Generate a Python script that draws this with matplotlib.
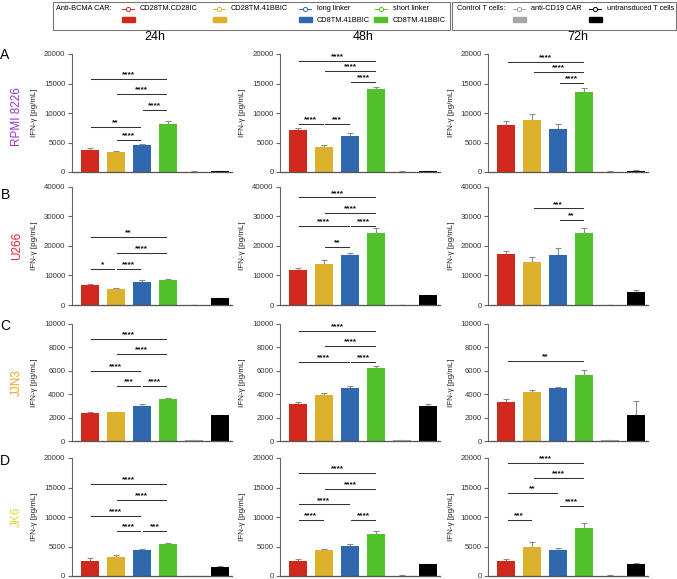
import matplotlib
matplotlib.use("Agg")
import matplotlib.pyplot as plt
from matplotlib.lines import Line2D
from matplotlib.patches import Rectangle

plt.rcParams['font.family'] = ['Liberation Sans', 'DejaVu Sans']

# ---------------- data ----------------
groups = ["CD28TM.CD28IC", "CD28TM.41BBIC", "long linker CD8TM.41BBIC",
          "short linker CD8TM.41BBIC", "anti-CD19 CAR", "untransduced T cells"]
times = ["24h", "48h", "72h"]
cell_lines = ["RPMI 8226", "U266", "JJN3", "JK6"]
panel_letters = ["A", "B", "C", "D"]
y_max = [20000, 40000, 10000, 20000]
y_step = [5000, 10000, 2000, 5000]

# means [time][group]
rpmi_mean = [[3800, 3400, 4650, 8150, 80, 150],
             [7100, 4250, 6080, 14030, 80, 150],
             [7950, 8800, 7300, 13500, 80, 250]]
rpmi_err = [[350, 200, 150, 500, 30, 40],
            [300, 400, 450, 350, 30, 40],
            [750, 1000, 800, 800, 30, 40]]
u266_mean = [[6750, 5300, 7750, 8450, 0, 2250],
             [12000, 13950, 16800, 24350, 100, 3300],
             [17350, 14500, 16800, 24350, 100, 4300]]
u266_err = [[250, 300, 650, 250, 0, 100],
            [450, 1350, 800, 1700, 50, 250],
            [900, 1700, 2500, 1700, 50, 900]]
jjn3_mean = [[2420, 2440, 2980, 3600, 50, 2180],
             [3120, 3890, 4510, 6200, 60, 2950],
             [3370, 4170, 4490, 5620, 50, 2180]]
jjn3_err = [[60, 80, 140, 100, 20, 60],
            [250, 170, 200, 200, 40, 230],
            [230, 200, 150, 480, 40, 1200]]
jk6_mean = [[2600, 3170, 4420, 5380, 0, 1530],
            [2500, 4350, 5100, 7080, 80, 1980],
            [2600, 5000, 4400, 8200, 60, 2100]]
jk6_err = [[400, 350, 100, 280, 0, 100],
           [400, 230, 280, 570, 30, 60],
           [200, 750, 400, 700, 30, 100]]

means = [rpmi_mean, u266_mean, jjn3_mean, jk6_mean]
errs = [rpmi_err, u266_err, jjn3_err, jk6_err]

# significance brackets: (group i, group j, y, label)
sig = [
    [[(0, 3, 15800, "****"), (1, 3, 13150, "****"), (2, 3, 10500, "****"),
      (0, 2, 7650, "**"), (1, 2, 5500, "****")],
     [(0, 3, 18850, "****"), (1, 3, 17050, "****"), (2, 3, 15280, "****"),
      (0, 1, 8070, "****"), (1, 2, 8070, "***")],
     [(0, 3, 18700, "****"), (1, 3, 16970, "****"), (2, 3, 15140, "****")]],
    [[(0, 3, 22870, "**"), (1, 3, 17700, "****"), (0, 1, 12280, "*"),
      (1, 2, 12280, "****")],
     [(0, 3, 36370, "****"), (1, 3, 31160, "****"), (0, 2, 26740, "****"),
      (2, 3, 26740, "****"), (1, 2, 19500, "**")],
     [(1, 3, 32630, "***"), (2, 3, 28670, "**")]],
    [[(0, 3, 8710, "****"), (1, 3, 7400, "****"), (0, 2, 6000, "****"),
      (1, 2, 4690, "***"), (2, 3, 4690, "****")],
     [(0, 3, 9430, "****"), (1, 3, 8090, "****"), (0, 2, 6740, "****"),
      (2, 3, 6740, "****")],
     [(0, 3, 6820, "**")]],
    [[(0, 3, 15580, "****"), (1, 3, 12860, "****"), (0, 2, 10200, "****"),
      (1, 2, 7650, "****"), (2, 3, 7650, "***")],
     [(0, 3, 17450, "****"), (1, 3, 14730, "****"), (0, 2, 12120, "****"),
      (0, 1, 9460, "****"), (2, 3, 9460, "****")],
     [(0, 3, 19150, "****"), (1, 3, 16600, "****"), (0, 2, 14070, "**"),
      (2, 3, 11860, "****"), (0, 1, 9490, "***")]],
]

# ---------------- style ----------------
bar_colors = ["#D0281C", "#DDB12C", "#2F68AE", "#52C02A", "#A6A6A6", "#000000"]
line_colors = ["#D0281C", "#DDB12C", "#2F68AE", "#52C02A", "#A6A6A6", "#000000"]
cell_colors = ["#9B2FD6", "#E2232E", "#F4A01E", "#E3D43A"]

W, H = 677, 579
fig = plt.figure(figsize=(W / 100, H / 100), dpi=100)

def fx(px):
    return px / W

def fy(py):
    return 1 - py / H

col_left = [71.7, 280, 488.3]
ax_w = 160
row_top = [54, 186.7, 324, 458]
row_bot = [172, 305, 441, 576]

x = list(range(len(groups)))
for r in range(4):
    for c in range(3):
        ax = fig.add_axes([fx(col_left[c]), fy(row_bot[r]), fx(ax_w),
                           (row_bot[r] - row_top[r]) / H])
        m = means[r][c]
        e = errs[r][c]
        ax.errorbar(x, m, yerr=[[0] * len(e), e], fmt='none', ecolor='#8c8c8c',
                    elinewidth=0.8, capsize=2.5, capthick=0.8, zorder=1)
        ax.bar(x, m, width=0.69, color=bar_colors, zorder=2)
        for (i, j, yv, lab) in sig[r][c]:
            ax.plot([i + 0.05, j - 0.05], [yv, yv], color='#333333', lw=0.75,
                    zorder=3, clip_on=False)
            ax.annotate(lab, ((i + j) / 2, yv), xytext=(0, 0.5),
                        textcoords='offset points', ha='center', va='bottom',
                        fontsize=6, fontweight='bold', color='#111111')
        ax.set_xlim(-0.69, 5.46)
        ax.set_ylim(0, y_max[r])
        ax.set_yticks(range(0, y_max[r] + 1, y_step[r]))
        ax.set_xticks([])
        for s in ['top', 'right']:
            ax.spines[s].set_visible(False)
        ax.spines['left'].set_color('#666666')
        ax.spines['left'].set_linewidth(0.8)
        ax.spines['bottom'].set_color('#555555')
        ax.spines['bottom'].set_linewidth(0.9)
        ax.spines['bottom'].set_linestyle((0, (1.0, 0.8)))
        ax.tick_params(axis='y', length=3, width=0.8, color='#666666',
                       labelsize=5.6, labelcolor='#333333', pad=1.5)
        ax.set_ylabel("IFN-γ [pg/mL]", fontsize=5.8, color='#222222')
        ax.yaxis.set_label_coords(-0.21, 0.5)
        ax.patch.set_alpha(0)

# column titles
for c, (t, px) in enumerate(zip(times, [155, 363, 578])):
    fig.text(fx(px), fy(37), t, ha='center', va='center', fontsize=9)

# row labels
for r in range(4):
    fig.text(fx(5), fy([55, 195, 326, 461][r]), panel_letters[r], ha='center',
             va='center', fontsize=10)
    fig.text(fx(17), fy((row_top[r] + row_bot[r]) / 2 + (4 if r == 0 else 0)),
             cell_lines[r], rotation=90, ha='center', va='center',
             fontsize=8.5, color=cell_colors[r])

# legend boxes
tf = fig.transFigure
for (x0, x1) in [(53, 450), (452, 676)]:
    fig.patches.append(Rectangle((fx(x0), fy(30)), fx(x1 - x0), (30 - 1.5) / H,
                                 transform=tf, fill=False, ec='#777777', lw=0.8))
fs = 5.3
fig.text(fx(56), fy(9), "Anti-BCMA CAR:", fontsize=fs, va='center')
fig.text(fx(457), fy(9), "Control T cells:", fontsize=fs, va='center')
leg_x = [128, 219, 305, 381, 519, 595]
leg_line1 = ["CD28TM.CD28IC", "CD28TM.41BBIC", "long linker", "short linker",
             "anti-CD19 CAR", "untransduced T cells"]
leg_line2 = ["", "", "CD8TM.41BBIC", "CD8TM.41BBIC", "", ""]
for k, lx in enumerate(leg_x):
    fig.lines.append(Line2D([fx(lx - 6), fx(lx), fx(lx + 6)], [fy(9)] * 3,
                            transform=tf, color=line_colors[k], lw=0.7,
                            marker='o', markevery=[1], ms=3, mfc='white',
                            mec=line_colors[k], mew=0.7))
    fig.patches.append(Rectangle((fx(lx - 6.5), fy(21.5)), fx(13), 4.5 / H,
                                 transform=tf, color=bar_colors[k]))
    fig.text(fx(lx + 12), fy(9), leg_line1[k], fontsize=fs, va='center')
    if leg_line2[k]:
        fig.text(fx(lx + 12), fy(21), leg_line2[k], fontsize=fs, va='center')

fig.savefig("out.png", dpi=100)
